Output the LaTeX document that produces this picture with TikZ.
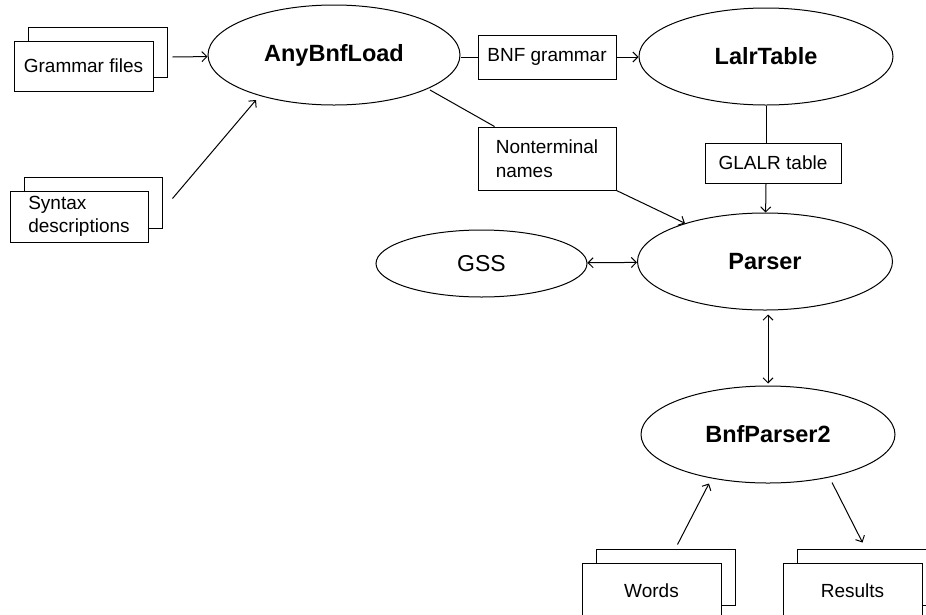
\documentclass[tikz,border=0pt]{standalone}
\usepackage{fontspec}
\setmainfont{Liberation Sans}
\usetikzlibrary{shapes.geometric,shadows,arrows.meta}

\begin{document}
\begin{tikzpicture}[x=1pt,y=-1pt,line width=1pt,
  >={Straight Barb[length=5pt,width=10pt]},
  proc/.style={ellipse,draw,inner sep=0pt,font=\fontsize{23.5}{27}\selectfont\bfseries},
  databox/.style={rectangle,draw,fill=white,inner sep=0pt,font=\fontsize{19}{23.5}\selectfont},
  docbox/.style={databox,copy shadow={shadow xshift=14pt,shadow yshift=14pt,draw=black,fill=white}}]
  \useasboundingbox (0,0) rectangle (926,614);
  \node[proc,minimum width=252pt,minimum height=100pt] (load) at (334,55) {AnyBnfLoad};
  \node[proc,minimum width=254pt,minimum height=97pt] (lalr) at (766,56.5) {LalrTable};
  \node[proc,minimum width=255pt,minimum height=97pt] (parser) at (765,261.5) {Parser};
  \node[proc,minimum width=211pt,minimum height=67pt,font=\fontsize{23}{27}\selectfont] (gss) at (481.5,263.5) {GSS};
  \node[proc,minimum width=254pt,minimum height=97pt] (bnfp) at (768,434.5) {BnfParser2};
  \node[docbox,minimum width=139pt,minimum height=50pt] (gram) at (83.5,66) {Grammar files};
  \node[docbox,minimum width=138pt,minimum height=51pt,align=left] (syn) at (79,216.5) {Syntax\\descriptions};
  \node[databox,minimum width=138pt,minimum height=44pt] (bnf) at (547,57) {BNF grammar};
  \node[databox,minimum width=138pt,minimum height=63pt,align=left] (nonterm) at (547,158.5) {Nonterminal\\names};
  \node[databox,minimum width=136pt,minimum height=40pt] (glalr) at (773,163) {GLALR table};
  \node[docbox,minimum width=139pt,minimum height=56pt] (words) at (651.5,591) {Words};
  \node[docbox,minimum width=139pt,minimum height=56pt] (results) at (852.5,591) {Results};

  \draw[->] ([shift={(19,-9)}]gram.east) -- (load);
  \draw[->] ([shift={(24,-18)}]syn.east) -- ([shift={(-78,45)}]load.center);
  \draw (load.east |- bnf) -- (bnf);
  \draw[->] (bnf) -- (lalr.west |- bnf);
  \draw ([shift={(96,35)}]load.center) -- ([xshift=17pt]nonterm.north west);
  \draw[->] (nonterm.south east) -- (parser);
  \draw (lalr) -- (lalr |- glalr.north);
  \draw[->] (lalr |- glalr.south) -- (parser);
  \draw[<->] (gss) -- (parser);
  \draw[<->,shorten <=4pt,shorten >=2pt] (parser.south -| bnfp) -- (bnfp.north);
  \draw[->] ([shift={(26,-18)}]words.north) -- ([shift={(-59,49)}]bnfp.center);
  \draw[->] ([shift={(64,48)}]bnfp.center) -- ([shift={(10,-20)}]results.north);
\end{tikzpicture}
\end{document}
